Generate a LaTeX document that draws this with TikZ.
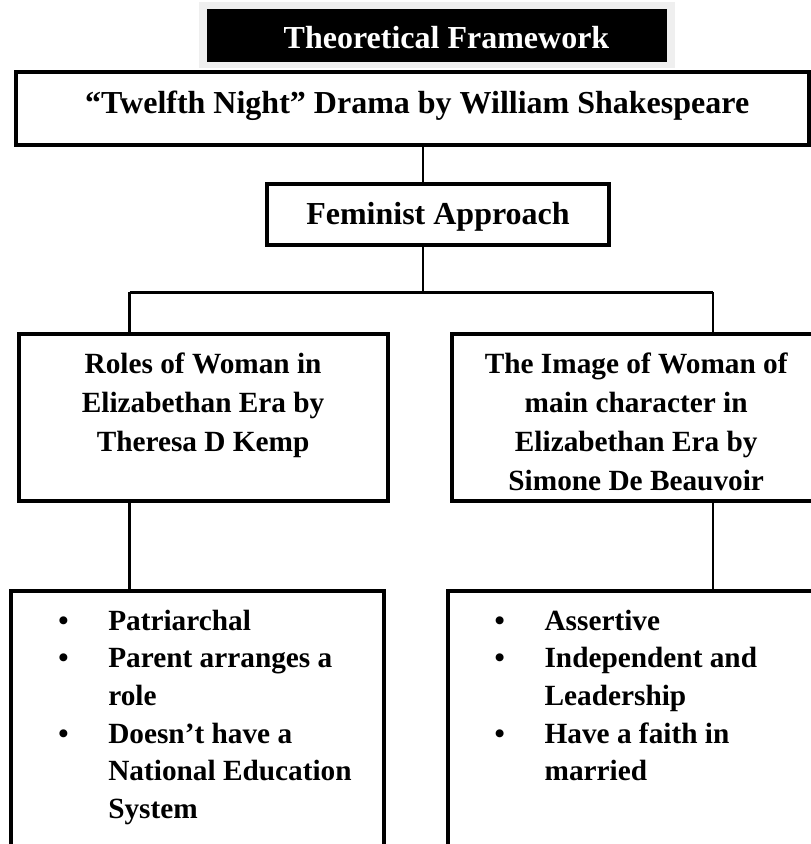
\documentclass[tikz,border=0pt]{standalone}
\usepackage{fontspec}
\setmainfont{Liberation Serif}
\usetikzlibrary{positioning}
\definecolor{framegray}{RGB}{239,239,239}
\newcommand{\hdrfont}{\fontsize{32pt}{38pt}\selectfont\bfseries}
\newcommand{\rolefont}{\fontsize{29.3pt}{39pt}\selectfont\bfseries}
\newcommand{\listfont}{\fontsize{29.3pt}{37.7pt}\selectfont\bfseries}
\newcommand{\itm}[1]{\makebox[97pt][l]{\hspace{47pt}\textbullet}#1}
\newcommand{\cnt}[1]{\hspace*{97pt}#1}
\tikzstyle{framebox} = [rectangle, fill=framegray, minimum width=476pt, minimum height=66.3pt, inner sep=0pt]
\tikzstyle{titlebox} = [rectangle, fill=black, text=white, font=\hdrfont, minimum width=460pt, minimum height=53.3pt, inner sep=0pt, text height=26pt, text depth=0.8pt]
\tikzstyle{topbox} = [rectangle, draw=black, line width=4pt, font=\hdrfont, inner sep=0pt, text height=26pt]
\tikzstyle{rolebox} = [rectangle, draw=black, line width=4pt, font=\rolefont, inner sep=0pt]
\tikzstyle{listbox} = [rectangle, draw=black, line width=4pt, font=\listfont, inner sep=0pt]
\tikzstyle{link} = [draw=black, line width=2.5pt]
\tikzstyle{bar} = [draw=black, line width=3pt]

\begin{document}
\begin{tikzpicture}[x=1pt, y=-1pt]
    \useasboundingbox (0,0) rectangle (811,844);
    \clip (0,0) rectangle (811,844);

    \node (frame) [framebox] at (437,34.85) {};
    \node (title) [titlebox] at (437,35.7) {\hspace*{19pt}Theoretical Framework};

    \node (drama) [topbox, minimum width=792.5pt, minimum height=73pt, text depth=16.4pt] at (412.25,108.5) {\hspace*{10pt}“Twelfth Night” Drama by William Shakespeare};
    \node (approach) [topbox, minimum width=342pt, minimum height=61pt, text depth=7pt] at (438,214.5) {Feminist Approach};

    \node (roleL) [rolebox] at (203.1,417.2) {\parbox[t][167pt][t]{369pt}{\centering\rule{0pt}{39.6pt}Roles of Woman in\\Elizabethan Era by\\Theresa D Kemp}};
    \node (roleR) [rolebox] at (636.2,417.2) {\parbox[t][167pt][t]{369pt}{\centering\rule{0pt}{39.6pt}The Image of Woman of\\main character in\\Elizabethan Era by\\Simone De Beauvoir}};

    \node (listL) [listbox] at (197.65,718.25) {\parbox[t][254.5pt][t]{372.7pt}{\raggedright\rule{0pt}{39pt}\itm{Patriarchal}\\\itm{Parent arranges a}\\\cnt{role}\\\itm{Doesn’t have a}\\\cnt{National Education}\\\cnt{System}}};
    \node (listR) [listbox] at (633.95,718.25) {\parbox[t][254.5pt][t]{372.7pt}{\raggedright\rule{0pt}{39pt}\itm{Assertive}\\\itm{Independent and}\\\cnt{Leadership}\\\itm{Have a faith in}\\\cnt{married}}};

    \coordinate (hub) at (423,292);
    \coordinate (dropL) at (129.5,292);
    \coordinate (dropR) at (713,292);

    \draw [link] (hub |- drama.south) -- (hub |- approach.north);
    \draw [link] (hub |- approach.south) -- (hub);
    \draw [bar] (dropL) -- (dropR);

    \draw [link] (dropL) -- (dropL |- roleL.north);
    \draw [link] (dropR) -- (dropR |- roleR.north);
    \draw [link] (dropL |- roleL.south) -- (dropL |- listL.north);
    \draw [link] (dropR |- roleR.south) -- (dropR |- listR.north);

  \end{tikzpicture}
\end{document}
